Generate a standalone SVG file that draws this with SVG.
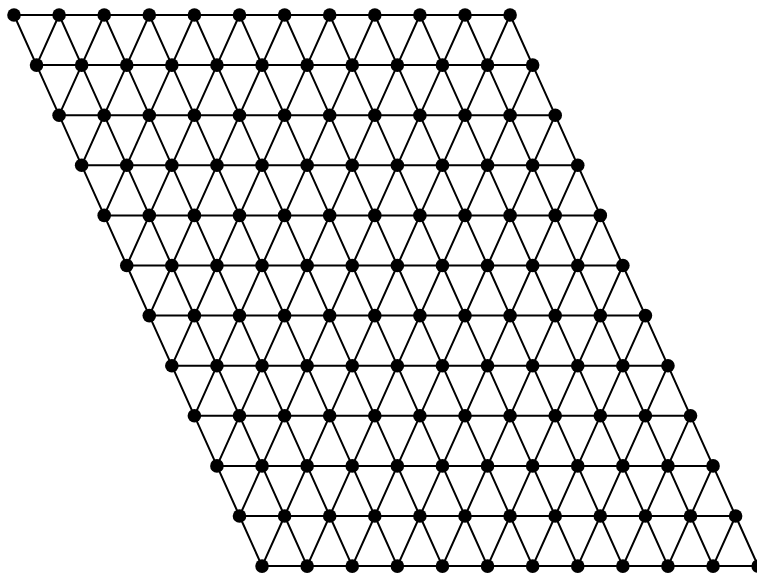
<svg xmlns="http://www.w3.org/2000/svg" width="757" height="575" viewBox="0 0 757 575">
<style>
.e line{stroke:#000;stroke-width:2;stroke-linecap:round}
.n circle{fill:#000}
</style>
<rect width="757" height="575" fill="#fff"/>
<g id="connectors" class="e">
<g transform="translate(14,15)"><line x1="0" x2="45.1"/><line x1="45.1" x2="90.2"/><line x1="90.2" x2="135.3"/><line x1="135.3" x2="180.4"/><line x1="180.4" x2="225.5"/><line x1="225.5" x2="270.6"/><line x1="270.6" x2="315.7"/><line x1="315.7" x2="360.8"/><line x1="360.8" x2="405.9"/><line x1="405.9" x2="451"/><line x1="451" x2="496.1"/><line x1="0" x2="22.55" y2="50.1"/><line x1="45.1" x2="67.65" y2="50.1"/><line x1="90.2" x2="112.75" y2="50.1"/><line x1="135.3" x2="157.85" y2="50.1"/><line x1="180.4" x2="202.95" y2="50.1"/><line x1="225.5" x2="248.05" y2="50.1"/><line x1="270.6" x2="293.15" y2="50.1"/><line x1="315.7" x2="338.25" y2="50.1"/><line x1="360.8" x2="383.35" y2="50.1"/><line x1="405.9" x2="428.45" y2="50.1"/><line x1="451" x2="473.55" y2="50.1"/><line x1="496.1" x2="518.65" y2="50.1"/><line x1="45.1" x2="22.55" y2="50.1"/><line x1="90.2" x2="67.65" y2="50.1"/><line x1="135.3" x2="112.75" y2="50.1"/><line x1="180.4" x2="157.85" y2="50.1"/><line x1="225.5" x2="202.95" y2="50.1"/><line x1="270.6" x2="248.05" y2="50.1"/><line x1="315.7" x2="293.15" y2="50.1"/><line x1="360.8" x2="338.25" y2="50.1"/><line x1="405.9" x2="383.35" y2="50.1"/><line x1="451" x2="428.45" y2="50.1"/><line x1="496.1" x2="473.55" y2="50.1"/></g>
<g transform="translate(36.55,65.1)"><line x1="0" x2="45.1"/><line x1="45.1" x2="90.2"/><line x1="90.2" x2="135.3"/><line x1="135.3" x2="180.4"/><line x1="180.4" x2="225.5"/><line x1="225.5" x2="270.6"/><line x1="270.6" x2="315.7"/><line x1="315.7" x2="360.8"/><line x1="360.8" x2="405.9"/><line x1="405.9" x2="451"/><line x1="451" x2="496.1"/><line x1="0" x2="22.55" y2="50.1"/><line x1="45.1" x2="67.65" y2="50.1"/><line x1="90.2" x2="112.75" y2="50.1"/><line x1="135.3" x2="157.85" y2="50.1"/><line x1="180.4" x2="202.95" y2="50.1"/><line x1="225.5" x2="248.05" y2="50.1"/><line x1="270.6" x2="293.15" y2="50.1"/><line x1="315.7" x2="338.25" y2="50.1"/><line x1="360.8" x2="383.35" y2="50.1"/><line x1="405.9" x2="428.45" y2="50.1"/><line x1="451" x2="473.55" y2="50.1"/><line x1="496.1" x2="518.65" y2="50.1"/><line x1="45.1" x2="22.55" y2="50.1"/><line x1="90.2" x2="67.65" y2="50.1"/><line x1="135.3" x2="112.75" y2="50.1"/><line x1="180.4" x2="157.85" y2="50.1"/><line x1="225.5" x2="202.95" y2="50.1"/><line x1="270.6" x2="248.05" y2="50.1"/><line x1="315.7" x2="293.15" y2="50.1"/><line x1="360.8" x2="338.25" y2="50.1"/><line x1="405.9" x2="383.35" y2="50.1"/><line x1="451" x2="428.45" y2="50.1"/><line x1="496.1" x2="473.55" y2="50.1"/></g>
<g transform="translate(59.1,115.2)"><line x1="0" x2="45.1"/><line x1="45.1" x2="90.2"/><line x1="90.2" x2="135.3"/><line x1="135.3" x2="180.4"/><line x1="180.4" x2="225.5"/><line x1="225.5" x2="270.6"/><line x1="270.6" x2="315.7"/><line x1="315.7" x2="360.8"/><line x1="360.8" x2="405.9"/><line x1="405.9" x2="451"/><line x1="451" x2="496.1"/><line x1="0" x2="22.55" y2="50.1"/><line x1="45.1" x2="67.65" y2="50.1"/><line x1="90.2" x2="112.75" y2="50.1"/><line x1="135.3" x2="157.85" y2="50.1"/><line x1="180.4" x2="202.95" y2="50.1"/><line x1="225.5" x2="248.05" y2="50.1"/><line x1="270.6" x2="293.15" y2="50.1"/><line x1="315.7" x2="338.25" y2="50.1"/><line x1="360.8" x2="383.35" y2="50.1"/><line x1="405.9" x2="428.45" y2="50.1"/><line x1="451" x2="473.55" y2="50.1"/><line x1="496.1" x2="518.65" y2="50.1"/><line x1="45.1" x2="22.55" y2="50.1"/><line x1="90.2" x2="67.65" y2="50.1"/><line x1="135.3" x2="112.75" y2="50.1"/><line x1="180.4" x2="157.85" y2="50.1"/><line x1="225.5" x2="202.95" y2="50.1"/><line x1="270.6" x2="248.05" y2="50.1"/><line x1="315.7" x2="293.15" y2="50.1"/><line x1="360.8" x2="338.25" y2="50.1"/><line x1="405.9" x2="383.35" y2="50.1"/><line x1="451" x2="428.45" y2="50.1"/><line x1="496.1" x2="473.55" y2="50.1"/></g>
<g transform="translate(81.65,165.3)"><line x1="0" x2="45.1"/><line x1="45.1" x2="90.2"/><line x1="90.2" x2="135.3"/><line x1="135.3" x2="180.4"/><line x1="180.4" x2="225.5"/><line x1="225.5" x2="270.6"/><line x1="270.6" x2="315.7"/><line x1="315.7" x2="360.8"/><line x1="360.8" x2="405.9"/><line x1="405.9" x2="451"/><line x1="451" x2="496.1"/><line x1="0" x2="22.55" y2="50.1"/><line x1="45.1" x2="67.65" y2="50.1"/><line x1="90.2" x2="112.75" y2="50.1"/><line x1="135.3" x2="157.85" y2="50.1"/><line x1="180.4" x2="202.95" y2="50.1"/><line x1="225.5" x2="248.05" y2="50.1"/><line x1="270.6" x2="293.15" y2="50.1"/><line x1="315.7" x2="338.25" y2="50.1"/><line x1="360.8" x2="383.35" y2="50.1"/><line x1="405.9" x2="428.45" y2="50.1"/><line x1="451" x2="473.55" y2="50.1"/><line x1="496.1" x2="518.65" y2="50.1"/><line x1="45.1" x2="22.55" y2="50.1"/><line x1="90.2" x2="67.65" y2="50.1"/><line x1="135.3" x2="112.75" y2="50.1"/><line x1="180.4" x2="157.85" y2="50.1"/><line x1="225.5" x2="202.95" y2="50.1"/><line x1="270.6" x2="248.05" y2="50.1"/><line x1="315.7" x2="293.15" y2="50.1"/><line x1="360.8" x2="338.25" y2="50.1"/><line x1="405.9" x2="383.35" y2="50.1"/><line x1="451" x2="428.45" y2="50.1"/><line x1="496.1" x2="473.55" y2="50.1"/></g>
<g transform="translate(104.2,215.4)"><line x1="0" x2="45.1"/><line x1="45.1" x2="90.2"/><line x1="90.2" x2="135.3"/><line x1="135.3" x2="180.4"/><line x1="180.4" x2="225.5"/><line x1="225.5" x2="270.6"/><line x1="270.6" x2="315.7"/><line x1="315.7" x2="360.8"/><line x1="360.8" x2="405.9"/><line x1="405.9" x2="451"/><line x1="451" x2="496.1"/><line x1="0" x2="22.55" y2="50.1"/><line x1="45.1" x2="67.65" y2="50.1"/><line x1="90.2" x2="112.75" y2="50.1"/><line x1="135.3" x2="157.85" y2="50.1"/><line x1="180.4" x2="202.95" y2="50.1"/><line x1="225.5" x2="248.05" y2="50.1"/><line x1="270.6" x2="293.15" y2="50.1"/><line x1="315.7" x2="338.25" y2="50.1"/><line x1="360.8" x2="383.35" y2="50.1"/><line x1="405.9" x2="428.45" y2="50.1"/><line x1="451" x2="473.55" y2="50.1"/><line x1="496.1" x2="518.65" y2="50.1"/><line x1="45.1" x2="22.55" y2="50.1"/><line x1="90.2" x2="67.65" y2="50.1"/><line x1="135.3" x2="112.75" y2="50.1"/><line x1="180.4" x2="157.85" y2="50.1"/><line x1="225.5" x2="202.95" y2="50.1"/><line x1="270.6" x2="248.05" y2="50.1"/><line x1="315.7" x2="293.15" y2="50.1"/><line x1="360.8" x2="338.25" y2="50.1"/><line x1="405.9" x2="383.35" y2="50.1"/><line x1="451" x2="428.45" y2="50.1"/><line x1="496.1" x2="473.55" y2="50.1"/></g>
<g transform="translate(126.75,265.5)"><line x1="0" x2="45.1"/><line x1="45.1" x2="90.2"/><line x1="90.2" x2="135.3"/><line x1="135.3" x2="180.4"/><line x1="180.4" x2="225.5"/><line x1="225.5" x2="270.6"/><line x1="270.6" x2="315.7"/><line x1="315.7" x2="360.8"/><line x1="360.8" x2="405.9"/><line x1="405.9" x2="451"/><line x1="451" x2="496.1"/><line x1="0" x2="22.55" y2="50.1"/><line x1="45.1" x2="67.65" y2="50.1"/><line x1="90.2" x2="112.75" y2="50.1"/><line x1="135.3" x2="157.85" y2="50.1"/><line x1="180.4" x2="202.95" y2="50.1"/><line x1="225.5" x2="248.05" y2="50.1"/><line x1="270.6" x2="293.15" y2="50.1"/><line x1="315.7" x2="338.25" y2="50.1"/><line x1="360.8" x2="383.35" y2="50.1"/><line x1="405.9" x2="428.45" y2="50.1"/><line x1="451" x2="473.55" y2="50.1"/><line x1="496.1" x2="518.65" y2="50.1"/><line x1="45.1" x2="22.55" y2="50.1"/><line x1="90.2" x2="67.65" y2="50.1"/><line x1="135.3" x2="112.75" y2="50.1"/><line x1="180.4" x2="157.85" y2="50.1"/><line x1="225.5" x2="202.95" y2="50.1"/><line x1="270.6" x2="248.05" y2="50.1"/><line x1="315.7" x2="293.15" y2="50.1"/><line x1="360.8" x2="338.25" y2="50.1"/><line x1="405.9" x2="383.35" y2="50.1"/><line x1="451" x2="428.45" y2="50.1"/><line x1="496.1" x2="473.55" y2="50.1"/></g>
<g transform="translate(149.3,315.6)"><line x1="0" x2="45.1"/><line x1="45.1" x2="90.2"/><line x1="90.2" x2="135.3"/><line x1="135.3" x2="180.4"/><line x1="180.4" x2="225.5"/><line x1="225.5" x2="270.6"/><line x1="270.6" x2="315.7"/><line x1="315.7" x2="360.8"/><line x1="360.8" x2="405.9"/><line x1="405.9" x2="451"/><line x1="451" x2="496.1"/><line x1="0" x2="22.55" y2="50.1"/><line x1="45.1" x2="67.65" y2="50.1"/><line x1="90.2" x2="112.75" y2="50.1"/><line x1="135.3" x2="157.85" y2="50.1"/><line x1="180.4" x2="202.95" y2="50.1"/><line x1="225.5" x2="248.05" y2="50.1"/><line x1="270.6" x2="293.15" y2="50.1"/><line x1="315.7" x2="338.25" y2="50.1"/><line x1="360.8" x2="383.35" y2="50.1"/><line x1="405.9" x2="428.45" y2="50.1"/><line x1="451" x2="473.55" y2="50.1"/><line x1="496.1" x2="518.65" y2="50.1"/><line x1="45.1" x2="22.55" y2="50.1"/><line x1="90.2" x2="67.65" y2="50.1"/><line x1="135.3" x2="112.75" y2="50.1"/><line x1="180.4" x2="157.85" y2="50.1"/><line x1="225.5" x2="202.95" y2="50.1"/><line x1="270.6" x2="248.05" y2="50.1"/><line x1="315.7" x2="293.15" y2="50.1"/><line x1="360.8" x2="338.25" y2="50.1"/><line x1="405.9" x2="383.35" y2="50.1"/><line x1="451" x2="428.45" y2="50.1"/><line x1="496.1" x2="473.55" y2="50.1"/></g>
<g transform="translate(171.85,365.7)"><line x1="0" x2="45.1"/><line x1="45.1" x2="90.2"/><line x1="90.2" x2="135.3"/><line x1="135.3" x2="180.4"/><line x1="180.4" x2="225.5"/><line x1="225.5" x2="270.6"/><line x1="270.6" x2="315.7"/><line x1="315.7" x2="360.8"/><line x1="360.8" x2="405.9"/><line x1="405.9" x2="451"/><line x1="451" x2="496.1"/><line x1="0" x2="22.55" y2="50.1"/><line x1="45.1" x2="67.65" y2="50.1"/><line x1="90.2" x2="112.75" y2="50.1"/><line x1="135.3" x2="157.85" y2="50.1"/><line x1="180.4" x2="202.95" y2="50.1"/><line x1="225.5" x2="248.05" y2="50.1"/><line x1="270.6" x2="293.15" y2="50.1"/><line x1="315.7" x2="338.25" y2="50.1"/><line x1="360.8" x2="383.35" y2="50.1"/><line x1="405.9" x2="428.45" y2="50.1"/><line x1="451" x2="473.55" y2="50.1"/><line x1="496.1" x2="518.65" y2="50.1"/><line x1="45.1" x2="22.55" y2="50.1"/><line x1="90.2" x2="67.65" y2="50.1"/><line x1="135.3" x2="112.75" y2="50.1"/><line x1="180.4" x2="157.85" y2="50.1"/><line x1="225.5" x2="202.95" y2="50.1"/><line x1="270.6" x2="248.05" y2="50.1"/><line x1="315.7" x2="293.15" y2="50.1"/><line x1="360.8" x2="338.25" y2="50.1"/><line x1="405.9" x2="383.35" y2="50.1"/><line x1="451" x2="428.45" y2="50.1"/><line x1="496.1" x2="473.55" y2="50.1"/></g>
<g transform="translate(194.4,415.8)"><line x1="0" x2="45.1"/><line x1="45.1" x2="90.2"/><line x1="90.2" x2="135.3"/><line x1="135.3" x2="180.4"/><line x1="180.4" x2="225.5"/><line x1="225.5" x2="270.6"/><line x1="270.6" x2="315.7"/><line x1="315.7" x2="360.8"/><line x1="360.8" x2="405.9"/><line x1="405.9" x2="451"/><line x1="451" x2="496.1"/><line x1="0" x2="22.55" y2="50.1"/><line x1="45.1" x2="67.65" y2="50.1"/><line x1="90.2" x2="112.75" y2="50.1"/><line x1="135.3" x2="157.85" y2="50.1"/><line x1="180.4" x2="202.95" y2="50.1"/><line x1="225.5" x2="248.05" y2="50.1"/><line x1="270.6" x2="293.15" y2="50.1"/><line x1="315.7" x2="338.25" y2="50.1"/><line x1="360.8" x2="383.35" y2="50.1"/><line x1="405.9" x2="428.45" y2="50.1"/><line x1="451" x2="473.55" y2="50.1"/><line x1="496.1" x2="518.65" y2="50.1"/><line x1="45.1" x2="22.55" y2="50.1"/><line x1="90.2" x2="67.65" y2="50.1"/><line x1="135.3" x2="112.75" y2="50.1"/><line x1="180.4" x2="157.85" y2="50.1"/><line x1="225.5" x2="202.95" y2="50.1"/><line x1="270.6" x2="248.05" y2="50.1"/><line x1="315.7" x2="293.15" y2="50.1"/><line x1="360.8" x2="338.25" y2="50.1"/><line x1="405.9" x2="383.35" y2="50.1"/><line x1="451" x2="428.45" y2="50.1"/><line x1="496.1" x2="473.55" y2="50.1"/></g>
<g transform="translate(216.95,465.9)"><line x1="0" x2="45.1"/><line x1="45.1" x2="90.2"/><line x1="90.2" x2="135.3"/><line x1="135.3" x2="180.4"/><line x1="180.4" x2="225.5"/><line x1="225.5" x2="270.6"/><line x1="270.6" x2="315.7"/><line x1="315.7" x2="360.8"/><line x1="360.8" x2="405.9"/><line x1="405.9" x2="451"/><line x1="451" x2="496.1"/><line x1="0" x2="22.55" y2="50.1"/><line x1="45.1" x2="67.65" y2="50.1"/><line x1="90.2" x2="112.75" y2="50.1"/><line x1="135.3" x2="157.85" y2="50.1"/><line x1="180.4" x2="202.95" y2="50.1"/><line x1="225.5" x2="248.05" y2="50.1"/><line x1="270.6" x2="293.15" y2="50.1"/><line x1="315.7" x2="338.25" y2="50.1"/><line x1="360.8" x2="383.35" y2="50.1"/><line x1="405.9" x2="428.45" y2="50.1"/><line x1="451" x2="473.55" y2="50.1"/><line x1="496.1" x2="518.65" y2="50.1"/><line x1="45.1" x2="22.55" y2="50.1"/><line x1="90.2" x2="67.65" y2="50.1"/><line x1="135.3" x2="112.75" y2="50.1"/><line x1="180.4" x2="157.85" y2="50.1"/><line x1="225.5" x2="202.95" y2="50.1"/><line x1="270.6" x2="248.05" y2="50.1"/><line x1="315.7" x2="293.15" y2="50.1"/><line x1="360.8" x2="338.25" y2="50.1"/><line x1="405.9" x2="383.35" y2="50.1"/><line x1="451" x2="428.45" y2="50.1"/><line x1="496.1" x2="473.55" y2="50.1"/></g>
<g transform="translate(239.5,516)"><line x1="0" x2="45.1"/><line x1="45.1" x2="90.2"/><line x1="90.2" x2="135.3"/><line x1="135.3" x2="180.4"/><line x1="180.4" x2="225.5"/><line x1="225.5" x2="270.6"/><line x1="270.6" x2="315.7"/><line x1="315.7" x2="360.8"/><line x1="360.8" x2="405.9"/><line x1="405.9" x2="451"/><line x1="451" x2="496.1"/><line x1="0" x2="22.55" y2="50.1"/><line x1="45.1" x2="67.65" y2="50.1"/><line x1="90.2" x2="112.75" y2="50.1"/><line x1="135.3" x2="157.85" y2="50.1"/><line x1="180.4" x2="202.95" y2="50.1"/><line x1="225.5" x2="248.05" y2="50.1"/><line x1="270.6" x2="293.15" y2="50.1"/><line x1="315.7" x2="338.25" y2="50.1"/><line x1="360.8" x2="383.35" y2="50.1"/><line x1="405.9" x2="428.45" y2="50.1"/><line x1="451" x2="473.55" y2="50.1"/><line x1="496.1" x2="518.65" y2="50.1"/><line x1="45.1" x2="22.55" y2="50.1"/><line x1="90.2" x2="67.65" y2="50.1"/><line x1="135.3" x2="112.75" y2="50.1"/><line x1="180.4" x2="157.85" y2="50.1"/><line x1="225.5" x2="202.95" y2="50.1"/><line x1="270.6" x2="248.05" y2="50.1"/><line x1="315.7" x2="293.15" y2="50.1"/><line x1="360.8" x2="338.25" y2="50.1"/><line x1="405.9" x2="383.35" y2="50.1"/><line x1="451" x2="428.45" y2="50.1"/><line x1="496.1" x2="473.55" y2="50.1"/></g>
<g transform="translate(262.05,566.1)"><line x1="0" x2="45.1"/><line x1="45.1" x2="90.2"/><line x1="90.2" x2="135.3"/><line x1="135.3" x2="180.4"/><line x1="180.4" x2="225.5"/><line x1="225.5" x2="270.6"/><line x1="270.6" x2="315.7"/><line x1="315.7" x2="360.8"/><line x1="360.8" x2="405.9"/><line x1="405.9" x2="451"/><line x1="451" x2="496.1"/></g>
</g>
<g id="nodes" class="n">
<g transform="translate(14,15)"><g id="n0-0"><circle cx="0" r="6.8"/></g><g id="n0-1"><circle cx="45.1" r="6.8"/></g><g id="n0-2"><circle cx="90.2" r="6.8"/></g><g id="n0-3"><circle cx="135.3" r="6.8"/></g><g id="n0-4"><circle cx="180.4" r="6.8"/></g><g id="n0-5"><circle cx="225.5" r="6.8"/></g><g id="n0-6"><circle cx="270.6" r="6.8"/></g><g id="n0-7"><circle cx="315.7" r="6.8"/></g><g id="n0-8"><circle cx="360.8" r="6.8"/></g><g id="n0-9"><circle cx="405.9" r="6.8"/></g><g id="n0-10"><circle cx="451" r="6.8"/></g><g id="n0-11"><circle cx="496.1" r="6.8"/></g></g>
<g transform="translate(36.55,65.1)"><g id="n1-0"><circle cx="0" r="6.8"/></g><g id="n1-1"><circle cx="45.1" r="6.8"/></g><g id="n1-2"><circle cx="90.2" r="6.8"/></g><g id="n1-3"><circle cx="135.3" r="6.8"/></g><g id="n1-4"><circle cx="180.4" r="6.8"/></g><g id="n1-5"><circle cx="225.5" r="6.8"/></g><g id="n1-6"><circle cx="270.6" r="6.8"/></g><g id="n1-7"><circle cx="315.7" r="6.8"/></g><g id="n1-8"><circle cx="360.8" r="6.8"/></g><g id="n1-9"><circle cx="405.9" r="6.8"/></g><g id="n1-10"><circle cx="451" r="6.8"/></g><g id="n1-11"><circle cx="496.1" r="6.8"/></g></g>
<g transform="translate(59.1,115.2)"><g id="n2-0"><circle cx="0" r="6.8"/></g><g id="n2-1"><circle cx="45.1" r="6.8"/></g><g id="n2-2"><circle cx="90.2" r="6.8"/></g><g id="n2-3"><circle cx="135.3" r="6.8"/></g><g id="n2-4"><circle cx="180.4" r="6.8"/></g><g id="n2-5"><circle cx="225.5" r="6.8"/></g><g id="n2-6"><circle cx="270.6" r="6.8"/></g><g id="n2-7"><circle cx="315.7" r="6.8"/></g><g id="n2-8"><circle cx="360.8" r="6.8"/></g><g id="n2-9"><circle cx="405.9" r="6.8"/></g><g id="n2-10"><circle cx="451" r="6.8"/></g><g id="n2-11"><circle cx="496.1" r="6.8"/></g></g>
<g transform="translate(81.65,165.3)"><g id="n3-0"><circle cx="0" r="6.8"/></g><g id="n3-1"><circle cx="45.1" r="6.8"/></g><g id="n3-2"><circle cx="90.2" r="6.8"/></g><g id="n3-3"><circle cx="135.3" r="6.8"/></g><g id="n3-4"><circle cx="180.4" r="6.8"/></g><g id="n3-5"><circle cx="225.5" r="6.8"/></g><g id="n3-6"><circle cx="270.6" r="6.8"/></g><g id="n3-7"><circle cx="315.7" r="6.8"/></g><g id="n3-8"><circle cx="360.8" r="6.8"/></g><g id="n3-9"><circle cx="405.9" r="6.8"/></g><g id="n3-10"><circle cx="451" r="6.8"/></g><g id="n3-11"><circle cx="496.1" r="6.8"/></g></g>
<g transform="translate(104.2,215.4)"><g id="n4-0"><circle cx="0" r="6.8"/></g><g id="n4-1"><circle cx="45.1" r="6.8"/></g><g id="n4-2"><circle cx="90.2" r="6.8"/></g><g id="n4-3"><circle cx="135.3" r="6.8"/></g><g id="n4-4"><circle cx="180.4" r="6.8"/></g><g id="n4-5"><circle cx="225.5" r="6.8"/></g><g id="n4-6"><circle cx="270.6" r="6.8"/></g><g id="n4-7"><circle cx="315.7" r="6.8"/></g><g id="n4-8"><circle cx="360.8" r="6.8"/></g><g id="n4-9"><circle cx="405.9" r="6.8"/></g><g id="n4-10"><circle cx="451" r="6.8"/></g><g id="n4-11"><circle cx="496.1" r="6.8"/></g></g>
<g transform="translate(126.75,265.5)"><g id="n5-0"><circle cx="0" r="6.8"/></g><g id="n5-1"><circle cx="45.1" r="6.8"/></g><g id="n5-2"><circle cx="90.2" r="6.8"/></g><g id="n5-3"><circle cx="135.3" r="6.8"/></g><g id="n5-4"><circle cx="180.4" r="6.8"/></g><g id="n5-5"><circle cx="225.5" r="6.8"/></g><g id="n5-6"><circle cx="270.6" r="6.8"/></g><g id="n5-7"><circle cx="315.7" r="6.8"/></g><g id="n5-8"><circle cx="360.8" r="6.8"/></g><g id="n5-9"><circle cx="405.9" r="6.8"/></g><g id="n5-10"><circle cx="451" r="6.8"/></g><g id="n5-11"><circle cx="496.1" r="6.8"/></g></g>
<g transform="translate(149.3,315.6)"><g id="n6-0"><circle cx="0" r="6.8"/></g><g id="n6-1"><circle cx="45.1" r="6.8"/></g><g id="n6-2"><circle cx="90.2" r="6.8"/></g><g id="n6-3"><circle cx="135.3" r="6.8"/></g><g id="n6-4"><circle cx="180.4" r="6.8"/></g><g id="n6-5"><circle cx="225.5" r="6.8"/></g><g id="n6-6"><circle cx="270.6" r="6.8"/></g><g id="n6-7"><circle cx="315.7" r="6.8"/></g><g id="n6-8"><circle cx="360.8" r="6.8"/></g><g id="n6-9"><circle cx="405.9" r="6.8"/></g><g id="n6-10"><circle cx="451" r="6.8"/></g><g id="n6-11"><circle cx="496.1" r="6.8"/></g></g>
<g transform="translate(171.85,365.7)"><g id="n7-0"><circle cx="0" r="6.8"/></g><g id="n7-1"><circle cx="45.1" r="6.8"/></g><g id="n7-2"><circle cx="90.2" r="6.8"/></g><g id="n7-3"><circle cx="135.3" r="6.8"/></g><g id="n7-4"><circle cx="180.4" r="6.8"/></g><g id="n7-5"><circle cx="225.5" r="6.8"/></g><g id="n7-6"><circle cx="270.6" r="6.8"/></g><g id="n7-7"><circle cx="315.7" r="6.8"/></g><g id="n7-8"><circle cx="360.8" r="6.8"/></g><g id="n7-9"><circle cx="405.9" r="6.8"/></g><g id="n7-10"><circle cx="451" r="6.8"/></g><g id="n7-11"><circle cx="496.1" r="6.8"/></g></g>
<g transform="translate(194.4,415.8)"><g id="n8-0"><circle cx="0" r="6.8"/></g><g id="n8-1"><circle cx="45.1" r="6.8"/></g><g id="n8-2"><circle cx="90.2" r="6.8"/></g><g id="n8-3"><circle cx="135.3" r="6.8"/></g><g id="n8-4"><circle cx="180.4" r="6.8"/></g><g id="n8-5"><circle cx="225.5" r="6.8"/></g><g id="n8-6"><circle cx="270.6" r="6.8"/></g><g id="n8-7"><circle cx="315.7" r="6.8"/></g><g id="n8-8"><circle cx="360.8" r="6.8"/></g><g id="n8-9"><circle cx="405.9" r="6.8"/></g><g id="n8-10"><circle cx="451" r="6.8"/></g><g id="n8-11"><circle cx="496.1" r="6.8"/></g></g>
<g transform="translate(216.95,465.9)"><g id="n9-0"><circle cx="0" r="6.8"/></g><g id="n9-1"><circle cx="45.1" r="6.8"/></g><g id="n9-2"><circle cx="90.2" r="6.8"/></g><g id="n9-3"><circle cx="135.3" r="6.8"/></g><g id="n9-4"><circle cx="180.4" r="6.8"/></g><g id="n9-5"><circle cx="225.5" r="6.8"/></g><g id="n9-6"><circle cx="270.6" r="6.8"/></g><g id="n9-7"><circle cx="315.7" r="6.8"/></g><g id="n9-8"><circle cx="360.8" r="6.8"/></g><g id="n9-9"><circle cx="405.9" r="6.8"/></g><g id="n9-10"><circle cx="451" r="6.8"/></g><g id="n9-11"><circle cx="496.1" r="6.8"/></g></g>
<g transform="translate(239.5,516)"><g id="n10-0"><circle cx="0" r="6.8"/></g><g id="n10-1"><circle cx="45.1" r="6.8"/></g><g id="n10-2"><circle cx="90.2" r="6.8"/></g><g id="n10-3"><circle cx="135.3" r="6.8"/></g><g id="n10-4"><circle cx="180.4" r="6.8"/></g><g id="n10-5"><circle cx="225.5" r="6.8"/></g><g id="n10-6"><circle cx="270.6" r="6.8"/></g><g id="n10-7"><circle cx="315.7" r="6.8"/></g><g id="n10-8"><circle cx="360.8" r="6.8"/></g><g id="n10-9"><circle cx="405.9" r="6.8"/></g><g id="n10-10"><circle cx="451" r="6.8"/></g><g id="n10-11"><circle cx="496.1" r="6.8"/></g></g>
<g transform="translate(262.05,566.1)"><g id="n11-0"><circle cx="0" r="6.8"/></g><g id="n11-1"><circle cx="45.1" r="6.8"/></g><g id="n11-2"><circle cx="90.2" r="6.8"/></g><g id="n11-3"><circle cx="135.3" r="6.8"/></g><g id="n11-4"><circle cx="180.4" r="6.8"/></g><g id="n11-5"><circle cx="225.5" r="6.8"/></g><g id="n11-6"><circle cx="270.6" r="6.8"/></g><g id="n11-7"><circle cx="315.7" r="6.8"/></g><g id="n11-8"><circle cx="360.8" r="6.8"/></g><g id="n11-9"><circle cx="405.9" r="6.8"/></g><g id="n11-10"><circle cx="451" r="6.8"/></g><g id="n11-11"><circle cx="496.1" r="6.8"/></g></g>
</g>
</svg>
